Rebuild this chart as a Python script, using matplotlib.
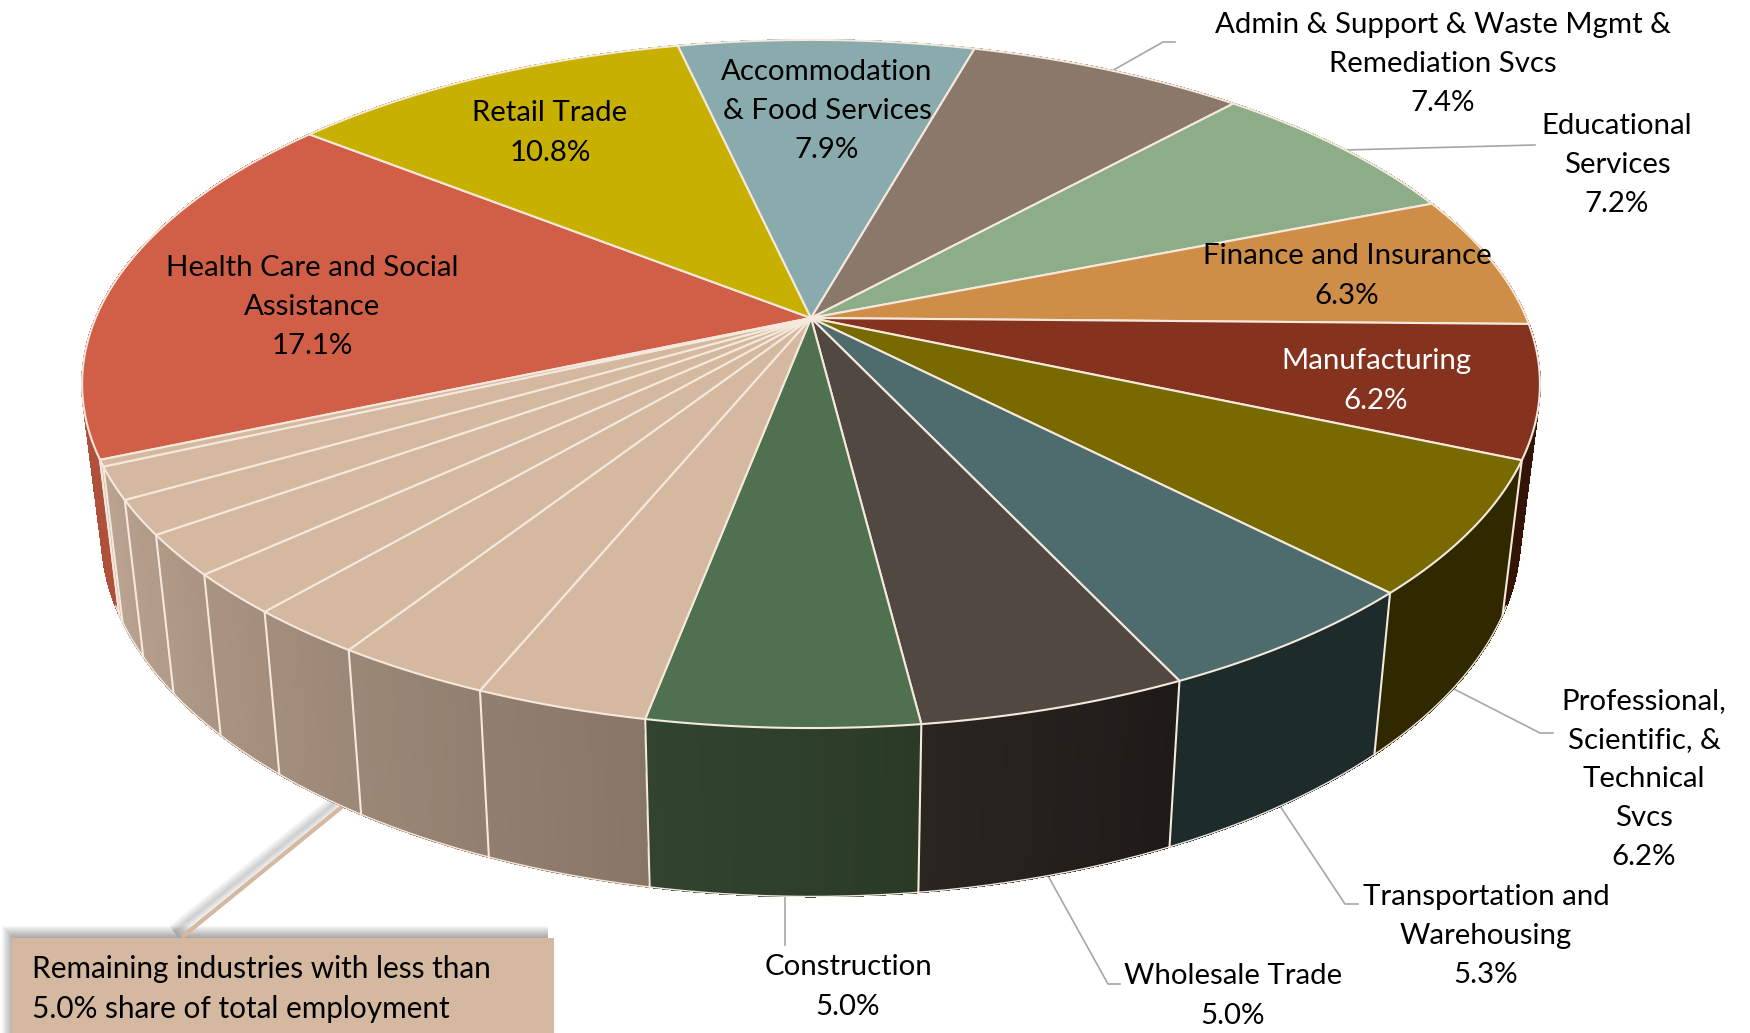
import numpy as np
import matplotlib
matplotlib.use('Agg')
import matplotlib.pyplot as plt
from matplotlib.colors import to_rgb

plt.rcParams['font.family'] = ['Lato', 'DejaVu Sans']

# named slices, clockwise from the start of Health Care
names = ['Health Care and Social\nAssistance', 'Retail Trade', 'Accommodation\n& Food Services',
         'Admin & Support & Waste Mgmt &\nRemediation Svcs', 'Educational\nServices',
         'Finance and Insurance', 'Manufacturing', 'Professional,\nScientific, &\nTechnical\nSvcs',
         'Transportation and\nWarehousing', 'Wholesale Trade', 'Construction']
shares = [17.1, 10.8, 7.9, 7.4, 7.2, 6.3, 6.2, 6.2, 5.3, 5.0, 5.0]
other_shares = [3.2, 2.9, 2.2, 1.9, 1.9, 1.6, 1.5, 0.3]

top_colors = ['#D15F47', '#C8B000', '#8AABAD', '#8A786B', '#8CAD88', '#CF8E48',
              '#85321F', '#786900', '#4E6B6E', '#524842', '#4F7150']
wall_colors = ['#B0503A', '#A99500', '#75918F', '#75665B', '#77937A', '#B07A3C',
               '#351408', '#302900', '#1D2B2B', '#262120', '#2F4029']
other_top = '#D4B89F'
edge = '#F5E8DC'
leader = '#A6A6A6'

label_xy = [(312, 307), (550, 133), (827, 111), (1443, 64), (1617, 165), (1347, 276),
            (1376, 381), (1644, 779), (1486, 936), (1233, 996), (848, 987)]
leaders = [[(1110, 72), (1163, 42), (1175, 42)],
           [(1345, 150), (1535, 145)],
           [(1454, 689), (1540, 733), (1553, 733)],
           [(1280, 806), (1345, 904), (1358, 904)],
           [(1047, 874), (1108, 984), (1120, 984)],
           [(785, 895), (785, 945)]]

# perspective of the pie top
cx, cy = 811, 318
a, b, k = 715.4, 331.4, 0.1918
start = 156.7


def top_xy(deg, r=1.0):
    t = np.radians(deg)
    u, v = r * np.cos(t), r * np.sin(t)
    w = 1 - k * v
    return cx + a * u / w, cy + b * v / w


def bottom_xy(deg):
    x, y = top_xy(deg)
    return cx + 0.973 * (x - cx), cy + 147.5 + 1.051 * (y - cy)


def mix(c1, c2, f):
    return tuple((1 - f) * p + f * q for p, q in zip(to_rgb(c1), to_rgb(c2)))


all_shares = shares + other_shares
angles = start + np.concatenate([[0], np.cumsum(all_shares)]) * 3.6 / (sum(all_shares) / 100)
n_named = len(shares)
all_top = top_colors + [other_top] * len(other_shares)

fig = plt.figure(figsize=(17.5, 10.33), dpi=100)
ax = fig.add_axes([0, 0, 1, 1])
ax.set_xlim(0, 1750)
ax.set_ylim(1033, 0)
ax.axis('off')

# walls, back to front
order = sorted(range(len(all_shares)), key=lambda i: -abs(((angles[i] + angles[i + 1]) / 2 % 360) - 90))
other_lo, other_hi = angles[n_named], angles[-1]
for i in order:
    a0, a1 = angles[i], angles[i + 1]
    steps = max(int((a1 - a0) / 0.5), 2)
    th = np.linspace(a0, a1, steps + 1)
    for j in range(steps):
        xa, ya = top_xy(th[j:j + 2])
        xb, yb = bottom_xy(th[j:j + 2])
        mid = (th[j] + th[j + 1]) / 2
        if i >= n_named:
            col = mix('#BBA491', '#877566', (other_hi - mid) / (other_hi - other_lo))
        elif i == n_named - 1:
            col = mix('#2A3A25', '#324430', (mid - a0) / (a1 - a0))
        elif i == n_named - 2:
            col = mix('#1E1A17', '#2A2521', (mid - a0) / (a1 - a0))
        else:
            col = wall_colors[i]
        ax.fill(np.r_[xa, xb[::-1]], np.r_[ya, yb[::-1]], color=col, lw=0.8, antialiased=False, zorder=2)

# seams on the walls and the bottom rim
for deg in angles[:-1]:
    if 15 < deg % 360 < 165:
        xa, ya = top_xy(deg)
        xb, yb = bottom_xy(deg)
        ax.plot([xa, xb], [ya, yb], color=edge, lw=1.5, zorder=3)
rim = np.linspace(22, 158, 200)
ax.plot(*bottom_xy(rim), color=edge, lw=1.0, zorder=3)

# top faces
for i in range(len(all_shares)):
    th = np.linspace(angles[i], angles[i + 1], 60)
    x, y = top_xy(th)
    ax.fill(np.r_[cx, x], np.r_[cy, y], facecolor=all_top[i], edgecolor=edge, lw=1.5,
            joinstyle='round', zorder=4)

# leader lines
for pts in leaders:
    xs, ys = zip(*pts)
    ax.plot(xs, ys, color=leader, lw=1.2, zorder=1)

# callout for the small industries, soft shadow first
for g in range(1, 13):
    ax.fill([14 - g, 548, 548, 14 - g], [938 - g, 938 - g, 1033, 1033], color='black', alpha=0.03, lw=0, zorder=1)
    ax.plot([174, 335], [932, 803], color='black', alpha=0.016, lw=g * 1.0, solid_capstyle='butt', zorder=1)
ax.plot([182, 343], [937, 806], color=other_top, lw=3, solid_capstyle='butt', zorder=1.5)
ax.fill([12, 554, 554, 12], [938, 938, 1033, 1033], color=other_top, lw=0, zorder=5)
ax.text(32, 989, 'Remaining industries with less than\n5.0% share of total employment',
        ha='left', va='center', fontsize=21.4, linespacing=1.5, color='black', zorder=6)

for name, val, (x, y) in zip(names, shares, label_xy):
    col = 'white' if name == 'Manufacturing' else 'black'
    ax.text(x, y, f'{name}\n{val:.1f}%', ha='center', va='center', fontsize=21.2,
            linespacing=1.62, color=col, zorder=6)

fig.savefig('out.png', dpi=100, facecolor='white')
